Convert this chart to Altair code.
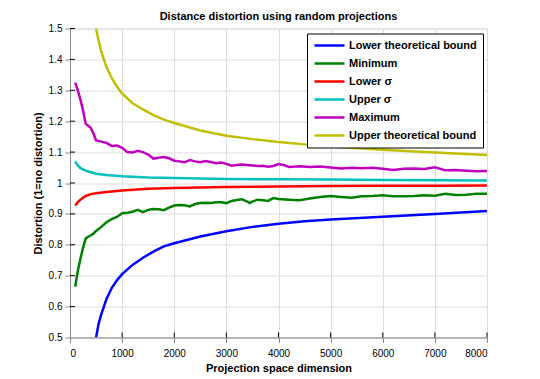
import altair as alt
import pandas as pd

series_names = ["Lower theoretical bound", "Minimum", "Lower σ", "Upper σ",
                "Maximum", "Upper theoretical bound"]
series_colors = ["#0000FF", "#008000", "#FF0000", "#00BFBF", "#BF00BF", "#BFBF00"]

lower_bound_x = [500, 550, 600, 700, 800, 900, 1000, 1200, 1400, 1600, 1800, 2000,
                 2500, 3000, 3500, 4000, 4500, 5000, 6000, 7000, 8000]
lower_bound_y = [0.50, 0.545, 0.575, 0.625, 0.66, 0.685, 0.705, 0.735, 0.758, 0.778,
                 0.795, 0.805, 0.827, 0.844, 0.858, 0.868, 0.876, 0.882, 0.891, 0.900, 0.909]

upper_bound_x = lower_bound_x
upper_bound_y = [1.50, 1.46, 1.425, 1.375, 1.340, 1.312, 1.290, 1.258, 1.238, 1.220,
                 1.205, 1.194, 1.170, 1.153, 1.142, 1.133, 1.125, 1.118, 1.108, 1.099, 1.091]

sigma_x = [100, 150, 200, 300, 400, 500, 700, 1000, 1500, 2000, 3000, 4000, 5000,
           6000, 7000, 8000]
lower_sigma_y = [0.927, 0.938, 0.946, 0.958, 0.964, 0.967, 0.971, 0.976, 0.981, 0.984,
                 0.987, 0.989, 0.990, 0.991, 0.991, 0.992]
upper_sigma_y = [1.070, 1.057, 1.048, 1.040, 1.035, 1.030, 1.026, 1.022, 1.018, 1.016,
                 1.013, 1.012, 1.011, 1.010, 1.009, 1.008]

max_x = [100, 150, 200, 250, 300, 350, 400, 450, 500, 600, 700, 800, 900, 1000, 1100,
         1200, 1300, 1400, 1500, 1600, 1700, 1800, 1900, 2000, 2100, 2200, 2300, 2400,
         2500, 2600, 2700, 2800, 2900, 3000, 3100, 3200, 3300, 3400, 3500, 3600, 3700,
         3800, 3900, 4000, 4100, 4200, 4300, 4400, 4600, 4800, 5000, 5200, 5400, 5600,
         5800, 6000, 6200, 6400, 6600, 6800, 7000, 7200, 7400, 7600, 7800, 8000]
max_y = [1.325, 1.300, 1.270, 1.235, 1.192, 1.185, 1.178, 1.160, 1.138, 1.134, 1.130,
         1.120, 1.121, 1.114, 1.100, 1.099, 1.104, 1.100, 1.092, 1.079, 1.082, 1.084,
         1.080, 1.072, 1.070, 1.067, 1.074, 1.070, 1.067, 1.071, 1.068, 1.064, 1.066,
         1.062, 1.056, 1.058, 1.060, 1.058, 1.057, 1.055, 1.056, 1.053, 1.055, 1.061,
         1.058, 1.052, 1.053, 1.054, 1.052, 1.053, 1.050, 1.047, 1.049, 1.048, 1.049,
         1.046, 1.042, 1.046, 1.047, 1.045, 1.051, 1.041, 1.042, 1.040, 1.038, 1.039]

min_x = [100, 150, 200, 250, 300, 350, 400, 450, 500, 600, 700, 800, 900, 1000, 1100,
         1200, 1300, 1400, 1500, 1600, 1700, 1800, 1900, 2000, 2100, 2200, 2300, 2400,
         2500, 2600, 2700, 2800, 2900, 3000, 3100, 3200, 3300, 3400, 3450, 3500, 3600,
         3700, 3800, 3900, 4000, 4200, 4400, 4600, 4800, 5000, 5200, 5400, 5600, 5800,
         6000, 6200, 6400, 6600, 6800, 7000, 7200, 7400, 7600, 7800, 8000]
min_y = [0.664, 0.715, 0.755, 0.790, 0.820, 0.826, 0.831, 0.836, 0.845, 0.858, 0.873,
         0.883, 0.890, 0.902, 0.904, 0.907, 0.913, 0.906, 0.913, 0.916, 0.915, 0.912,
         0.920, 0.927, 0.929, 0.928, 0.924, 0.932, 0.935, 0.936, 0.935, 0.938, 0.938,
         0.935, 0.942, 0.945, 0.947, 0.940, 0.935, 0.940, 0.946, 0.944, 0.942, 0.951,
         0.948, 0.946, 0.944, 0.950, 0.955, 0.958, 0.955, 0.952, 0.957, 0.958, 0.960,
         0.957, 0.957, 0.958, 0.960, 0.959, 0.965, 0.961, 0.962, 0.965, 0.965]

x_ticks = [0, 1000, 2000, 3000, 4000, 5000, 6000, 7000, 8000]
y_ticks = [0.5, 0.6, 0.7, 0.8, 0.9, 1.0, 1.1, 1.2, 1.3, 1.4, 1.5]

rows = []
for name, xs, ys in [
    (series_names[0], lower_bound_x, lower_bound_y),
    (series_names[1], min_x, min_y),
    (series_names[2], sigma_x, lower_sigma_y),
    (series_names[3], sigma_x, upper_sigma_y),
    (series_names[4], max_x, max_y),
    (series_names[5], upper_bound_x, upper_bound_y),
]:
    for xv, yv in zip(xs, ys):
        rows.append({"series": name, "dim": xv, "distortion": yv})
df = pd.DataFrame(rows)

FONT = "Liberation Sans"
W, H = 417, 309
xscale = alt.Scale(domain=[0, 8000], nice=False, zero=False)
yscale = alt.Scale(domain=[0.5, 1.5], nice=False, zero=False)
xaxis = alt.Axis(values=x_ticks, format="d", title="Projection space dimension",
                 labelPadding=6, titlePadding=4)
yaxis = alt.Axis(values=y_ticks, format=".1~f", title="Distortion (1=no distortion)",
                 labelPadding=3, titlePadding=5)

lines = alt.Chart(df).mark_line(strokeWidth=2.5, clip=True).encode(
    x=alt.X("dim:Q", scale=xscale, axis=xaxis),
    y=alt.Y("distortion:Q", scale=yscale, axis=yaxis),
    color=alt.Color("series:N",
                    scale=alt.Scale(domain=series_names, range=series_colors),
                    legend=alt.Legend(title=None, orient="none", legendX=237, legendY=5,
                                      fillColor="white", strokeColor="black", padding=6,
                                      symbolType="stroke", symbolSize=900,
                                      symbolStrokeWidth=2.5, clipHeight=12, rowPadding=6,
                                      labelOffset=3, labelFont=FONT, labelFontSize=11,
                                      labelFontWeight="bold", labelColor="black")),
)

xtick_df = pd.DataFrame({"dim": x_ticks[1:]})
ytick_df = pd.DataFrame({"distortion": y_ticks[1:]})

xtick_marks = alt.Chart(xtick_df).mark_rule(color="black", strokeWidth=1).encode(
    x=alt.X("dim:Q", scale=xscale, axis=xaxis),
    y=alt.value(H),
    y2=alt.value(H - 5),
)
ytick_marks = alt.Chart(ytick_df).mark_rule(color="black", strokeWidth=1).encode(
    y=alt.Y("distortion:Q", scale=yscale, axis=yaxis),
    x=alt.value(0),
    x2=alt.value(5),
)

chart = alt.layer(lines, xtick_marks, ytick_marks).properties(
    width=W, height=H,
    autosize=alt.AutoSizeParams(type="none"),
    padding={"left": 62, "top": 20.5, "right": 45, "bottom": 41.5},
    title=alt.TitleParams("Distance distortion using random projections", font=FONT,
                          fontSize=11, fontWeight="bold", color="black", offset=2,
                          frame="group"),
).configure_axis(
    grid=False, ticks=False, tickSize=0, domainColor="black", domainWidth=1,
    labelFont=FONT, labelFontSize=10, labelFontWeight="bold", labelColor="black",
    titleFont=FONT, titleFontSize=11, titleFontWeight="bold", titleColor="black",
).configure_view(strokeWidth=0).configure(background="white")

chart.save("out.html", embed_options={"renderer": "svg", "actions": False})
